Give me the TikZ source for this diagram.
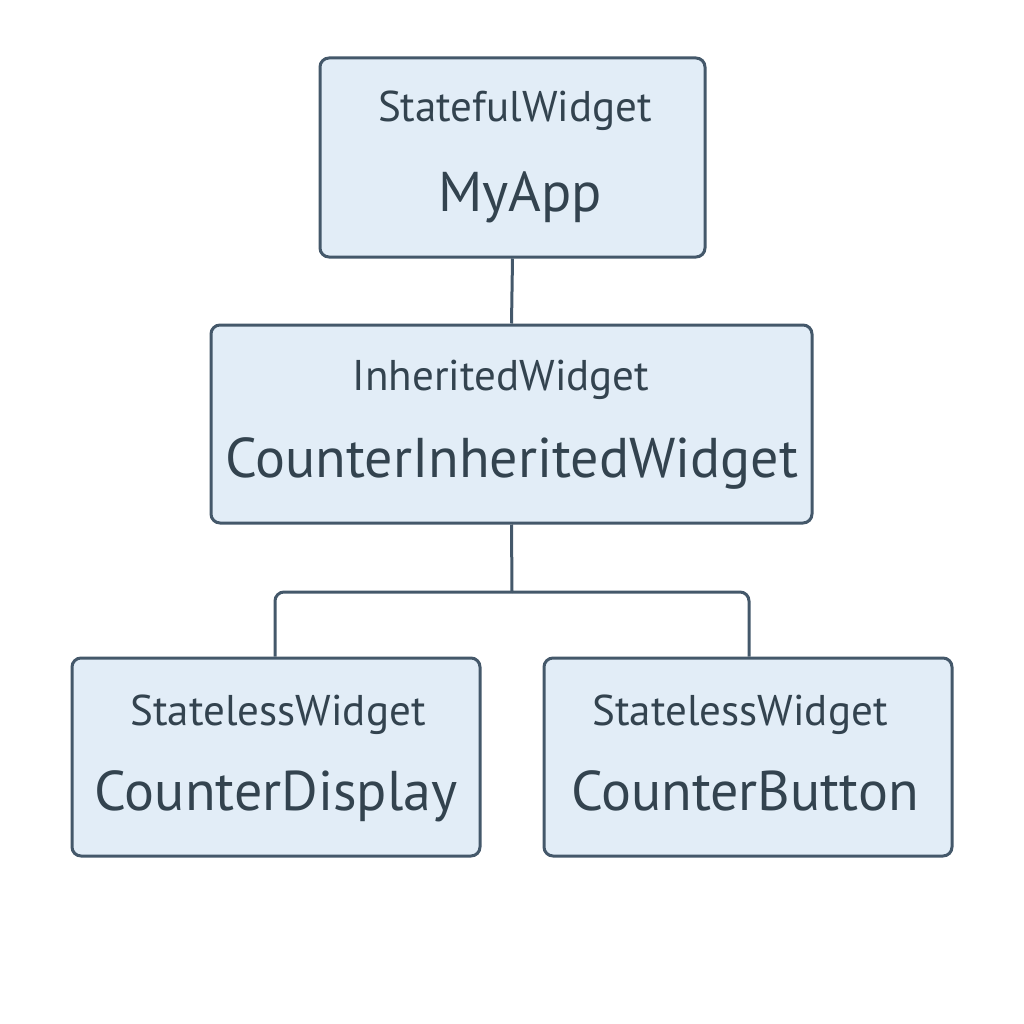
\documentclass[tikz,border=0pt]{standalone}
\usepackage{fontspec}
\setmainfont{PT Sans}
\definecolor{boxfill}{HTML}{E2EDF7}
\definecolor{boxline}{HTML}{44586A}
\definecolor{txt}{HTML}{33434F}
\begin{document}
\begin{tikzpicture}[x=1pt,y=-1pt,
  wbox/.style={draw=boxline, fill=boxfill, line width=3pt, rounded corners=9pt, inner sep=0pt},
  kindtxt/.style={text=txt, font=\fontsize{43}{46}\selectfont, inner sep=0pt, anchor=base},
  nametxt/.style={text=txt, font=\fontsize{56}{60}\selectfont, inner sep=0pt, anchor=base},
  conn/.style={draw=boxline, line width=3pt, rounded corners=9pt}]
\useasboundingbox (0,0) rectangle (1024,1024);
\node[wbox, minimum width=385pt, minimum height=199pt] (app) at (512.5,157.5) {};
\node[wbox, minimum width=601pt, minimum height=198pt] (inh) at (511.5,424) {};
\node[wbox, minimum width=408pt, minimum height=198pt] (disp) at (276,757) {};
\node[wbox, minimum width=408pt, minimum height=198pt] (btn) at (748,757) {};
\node[kindtxt] (appk) at (515,122) {StatefulWidget};
\node[nametxt] (appn) at (520,212) {MyApp};
\node[kindtxt] (inhk) at (501,390) {InheritedWidget};
\node[nametxt] (inhn) at (512,477) {CounterInheritedWidget};
\node[kindtxt] (dispk) at (278,725) {StatelessWidget};
\node[nametxt] (dispn) at (276,810) {CounterDisplay};
\node[kindtxt] (btnk) at (740,725) {StatelessWidget};
\node[nametxt] (btnn) at (745,810) {CounterButton};
\draw[conn] (app.south) -- (inh.north);
\coordinate (split) at (512,592);
\draw[conn] (inh.south) -- (split);
\draw[conn] (split) -| (disp.north -| 275,0);
\draw[conn] (split) -| (btn.north -| 749,0);
\end{tikzpicture}
\end{document}
